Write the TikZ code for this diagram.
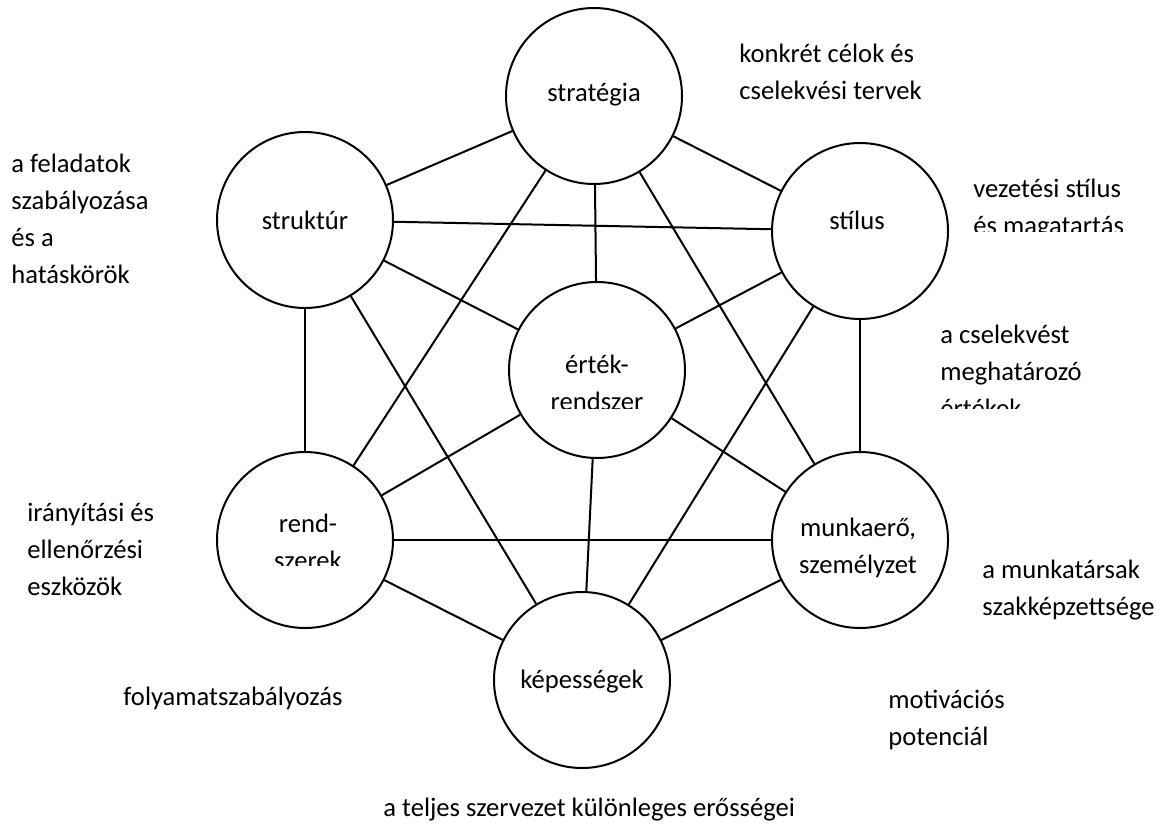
\documentclass[tikz,border=0pt]{standalone}
\usepackage{fontspec}
\setmainfont{Carlito}
\tikzset{
  bubble/.style={draw,circle,line width=1pt,minimum size=88pt,inner sep=0pt},
  bubbletext/.style={anchor=base,align=center,inner sep=0pt,font=\fontsize{13.3pt}{18.5pt}\selectfont},
  sidetext/.style={anchor=base west,align=left,inner sep=0pt,font=\fontsize{13.3pt}{18.5pt}\selectfont}
}
\begin{document}
\begin{tikzpicture}[x=0.5pt,y=-0.5pt]
      \useasboundingbox (0,0) rectangle (1166,825);
      \draw
        (594,96) node[bubble] (strat){}
        (305,220) node[bubble] (struct){}
        (860,231) node[bubble] (style){}
        (597,370) node[bubble] (value){}
        (305,540) node[bubble] (system){}
        (860,540) node[bubble] (staff){}
        (582,680) node[bubble] (skill){};
      \begin{scope}[line width=1pt]
        \draw (strat) to (struct);
        \draw (strat) to (style);
        \draw (strat) to (value);
        \draw (strat) to (system);
        \draw (strat) to (staff);
        \draw (struct) to (style);
        \draw (struct) to (value);
        \draw (struct) to (system);
        \draw (struct) to (skill);
        \draw (style) to (value);
        \draw (style) to (staff);
        \draw (style) to (skill);
        \draw (value) to (system);
        \draw (value) to (staff);
        \draw (value) to (skill);
        \draw (system) to (staff);
        \draw (system) to (skill);
        \draw (staff) to (skill);
      \end{scope}
      \draw
        (594,101) node[bubbletext] (stratT){stratégia}
        (305,229) node[bubbletext] (structT){struktúr}
        (857,229) node[bubbletext] (styleT){stílus}
        (858,573) node[bubbletext] (staffT){munkaerő,\\személyzet}
        (582,688) node[bubbletext] (skillT){képességek}
        (739,99) node[sidetext] (goalL){konkrét célok és\\cselekvési tervek}
        (11,283) node[sidetext] (structL){a feladatok\\szabályozása\\és a\\hatáskörök}
        (27,595) node[sidetext] (controlL){irányítási és\\ellenőrzési\\eszközök}
        (982,615) node[sidetext] (staffL){a munkatársak\\szakképzettsége}
        (123,705) node[sidetext] (processL){folyamatszabályozás}
        (888,745) node[sidetext] (motivL){motivációs\\potenciál}
        (383,816) node[sidetext] (strengthL){a teljes szervezet különleges erősségei};
      \begin{scope}
        \clip (500,330) rectangle (700,408);
        \node[bubbletext] (valueT) at (597,410) {érték-\\rendszer};
      \end{scope}
      \begin{scope}
        \clip (220,490) rectangle (400,565);
        \node[bubbletext] (systemT) at (308,569) {rend-\\szerek};
      \end{scope}
      \begin{scope}
        \clip (960,160) rectangle (1166,231);
        \node[sidetext] (styleL) at (973,234) {vezetési stílus\\és magatartás};
      \end{scope}
      \begin{scope}
        \clip (930,300) rectangle (1166,408);
        \node[sidetext] (valueL) at (940,417) {a cselekvést\\meghatározó\\értékek};
      \end{scope}
    \end{tikzpicture}
\end{document}
